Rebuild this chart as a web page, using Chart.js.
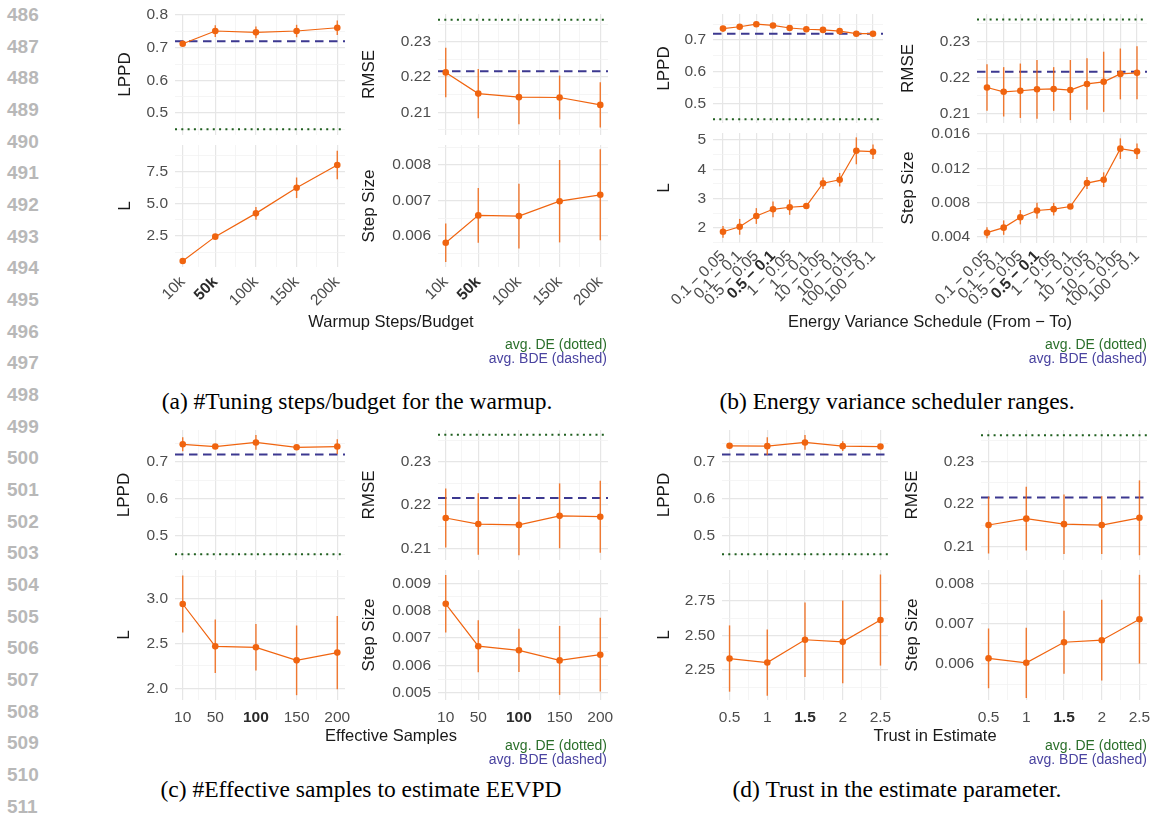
<!DOCTYPE html>
<html>
<head>
<meta charset="utf-8">
<script src="https://cdn.jsdelivr.net/npm/chart.js@4.4.1/dist/chart.umd.min.js"></script>
<style>
  body { margin: 0; background: #fff; width: 1150px; height: 828px; position: relative; overflow: hidden; font-family: "Liberation Sans", Arial, sans-serif; }
  canvas { position: absolute; }
  .ln { position: absolute; left: 7px; font-weight: bold; font-size: 19px; color: #b8b8b8; line-height: 1; transform: translateY(-50%); }
  .xt { position: absolute; font-size: 16.5px; color: #1a1a1a; line-height: 1; white-space: nowrap; transform: translate(-50%, -50%); }
  .lg { position: absolute; font-size: 14px; line-height: 1; white-space: nowrap; text-align: right; transform: translateY(-50%); }
  .cap { position: absolute; font-family: "Liberation Serif", "Times New Roman", serif; font-size: 23.5px; color: #000; line-height: 1; white-space: nowrap; transform: translate(-50%, -50%); }
</style>
</head>
<body>
<script>
// reference lines (avg. DE dotted, avg. BDE dashed)
const deLppd = 0.45, bdeLppd = 0.7195;
const deRmse = 0.2362, bdeRmse = 0.2216;

// y tick breaks
const lppdTicks = [0.5, 0.6, 0.7, 0.8];
const lppdTickLabels = ['0.5', '0.6', '0.7', '0.8'];
const rmseTicks = [0.21, 0.22, 0.23];
const rmseTickLabels = ['0.21', '0.22', '0.23'];

// (a) warmup steps / budget
const warmupX = [10, 50, 100, 150, 200];
const warmupLabels = ['10k', '50k', '100k', '150k', '200k'];
const warmupLppd = [0.712, 0.751, 0.747, 0.751, 0.761];
const warmupLppdErr = [0.006, 0.018, 0.018, 0.019, 0.022];
const warmupRmse = [0.2213, 0.2153, 0.2143, 0.2142, 0.2121];
const warmupRmseErr = [0.0070, 0.0070, 0.0077, 0.0062, 0.0064];
const warmupL = [0.56, 2.45, 4.26, 6.25, 8.02];
const warmupLErr = [0.05, 0.12, 0.5, 0.8, 1.1];
const warmupStep = [0.00581, 0.00658, 0.00656, 0.00698, 0.00716];
const warmupStepErr = [0.00054, 0.00077, 0.00091, 0.00116, 0.00128];
const warmupLTicks = [2.5, 5, 7.5];
const warmupLTickLabels = ['2.5', '5.0', '7.5'];
const warmupStepTicks = [0.006, 0.007, 0.008];
const warmupStepTickLabels = ['0.006', '0.007', '0.008'];

// (b) energy variance schedule
const energyX = [1, 2, 3, 4, 5, 6, 7, 8, 9, 10];
const energyLabels = ['0.1 − 0.05', '0.1 − 0.1', '0.5 − 0.05', '0.5 − 0.1', '1 − 0.05',
  '1 − 0.1', '10 − 0.05', '10 − 0.1', '100 − 0.05', '100 − 0.1'];
const energyLppd = [0.736, 0.742, 0.750, 0.746, 0.738, 0.734, 0.732, 0.728, 0.720, 0.720];
const energyLppdErr = [0.005, 0.005, 0.008, 0.006, 0.004, 0.004, 0.004, 0.004, 0.004, 0.004];
const energyRmse = [0.2172, 0.2160, 0.2163, 0.2167, 0.2168, 0.2165, 0.2182, 0.2188, 0.2210, 0.2213];
const energyRmseErr = [0.0065, 0.0069, 0.0076, 0.0082, 0.0061, 0.0084, 0.0072, 0.0084, 0.0071, 0.0074];
const energyL = [1.86, 2.03, 2.40, 2.63, 2.70, 2.74, 3.52, 3.64, 4.63, 4.60];
const energyLErr = [0.2, 0.27, 0.27, 0.27, 0.26, 0.1, 0.2, 0.23, 0.46, 0.25];
const energyStep = [0.00447, 0.00506, 0.00628, 0.00706, 0.00722, 0.00753, 0.01027, 0.01066, 0.01429, 0.01398];
const energyStepErr = [0.00064, 0.00084, 0.00084, 0.00092, 0.00074, 0.0003, 0.0007, 0.00086, 0.0012, 0.0009];
const energyLTicks = [2, 3, 4, 5];
const energyLTickLabels = ['2', '3', '4', '5'];
const energyStepTicks = [0.004, 0.008, 0.012, 0.016];
const energyStepTickLabels = ['0.004', '0.008', '0.012', '0.016'];

// (c) effective samples
const samplesX = [10, 50, 100, 150, 200];
const samplesLabels = ['10', '50', '100', '150', '200'];
const samplesLppd = [0.747, 0.741, 0.752, 0.739, 0.741];
const samplesLppdErr = [0.019, 0.004, 0.020, 0.004, 0.020];
const samplesRmse = [0.2170, 0.2156, 0.2154, 0.2175, 0.2173];
const samplesRmseErr = [0.0068, 0.0071, 0.0070, 0.0075, 0.0083];
const samplesL = [2.944, 2.47, 2.459, 2.313, 2.40];
const samplesLErr = [0.32, 0.30, 0.26, 0.39, 0.41];
const samplesStep = [0.00825, 0.00670, 0.00655, 0.00618, 0.00639];
const samplesStepErr = [0.00105, 0.00095, 0.00079, 0.00126, 0.00135];
const samplesLTicks = [2, 2.5, 3];
const samplesLTickLabels = ['2.0', '2.5', '3.0'];
const samplesStepTicks = [0.005, 0.006, 0.007, 0.008, 0.009];
const samplesStepTickLabels = ['0.005', '0.006', '0.007', '0.008', '0.009'];

// (d) trust in estimate
const trustX = [0.5, 1, 1.5, 2, 2.5];
const trustLabels = ['0.5', '1', '1.5', '2', '2.5'];
const trustLppd = [0.743, 0.742, 0.752, 0.742, 0.741];
const trustLppdErr = [0.005, 0.024, 0.020, 0.013, 0.007];
const trustRmse = [0.2151, 0.2166, 0.2153, 0.2151, 0.2168];
const trustRmseErr = [0.0067, 0.0075, 0.0070, 0.0068, 0.0088];
const trustL = [2.333, 2.304, 2.469, 2.454, 2.612];
const trustLErr = [0.24, 0.24, 0.27, 0.30, 0.33];
const trustStep = [0.00614, 0.00603, 0.00654, 0.00659, 0.00711];
const trustStepErr = [0.00074, 0.00087, 0.00078, 0.0010, 0.0011];
const trustLTicks = [2.25, 2.5, 2.75];
const trustLTickLabels = ['2.25', '2.50', '2.75'];
const trustStepTicks = [0.006, 0.007, 0.008];
const trustStepTickLabels = ['0.006', '0.007', '0.008'];

const lineNumbers = [486, 487, 488, 489, 490, 491, 492, 493, 494, 495, 496, 497, 498,
  499, 500, 501, 502, 503, 504, 505, 506, 507, 508, 509, 510, 511];

const FONT = '"Liberation Sans", Arial, sans-serif';
const ORANGE = '#f0640f';

// major breaks plus ggplot style minor breaks halfway between them
function withMinor(major, min, max, addMinor) {
  const all = major.filter(v => v >= min && v <= max);
  if (!addMinor) return all;
  const n = major.length;
  const cand = [major[0] - (major[1] - major[0]) / 2, major[n - 1] + (major[n - 1] - major[n - 2]) / 2];
  for (let i = 0; i < n - 1; i++) cand.push((major[i] + major[i + 1]) / 2);
  cand.forEach(v => { if (v >= min && v <= max) all.push(v); });
  return all.sort((a, b) => a - b);
}
const idxOf = (arr, v) => arr.findIndex(m => Math.abs(m - v) < 1e-9);

const errorBars = {
  id: 'errorBars',
  beforeDatasetsDraw(chart) {
    const {ctx, chartArea, scales: {x, y}} = chart;
    const ds = chart.data.datasets[0];
    const refs = chart.options.plugins.refLines.lines || [];
    ctx.save();
    refs.forEach(r => {
      const py = y.getPixelForValue(r.value);
      ctx.beginPath();
      ctx.strokeStyle = r.dotted ? '#1f5f1f' : '#3c3890';
      ctx.lineWidth = 2;
      ctx.setLineDash(r.dotted ? [2, 4.3] : [8.5, 5.5]);
      ctx.moveTo(chartArea.left, py);
      ctx.lineTo(chartArea.right, py);
      ctx.stroke();
    });
    ctx.setLineDash([]);
    ctx.strokeStyle = 'rgba(240,100,15,0.85)';
    ctx.lineWidth = 1.4;
    ds.data.forEach((pt, i) => {
      const px = x.getPixelForValue(pt.x);
      ctx.beginPath();
      ctx.moveTo(px, y.getPixelForValue(pt.y - ds.err[i]));
      ctx.lineTo(px, y.getPixelForValue(pt.y + ds.err[i]));
      ctx.stroke();
    });
    ctx.restore();
  }
};

function panel(p) {
  const padT = 12, padB = 12, padR = 22;
  const xh = p.xh || 0;
  const cl = p.titleX - 12;
  const w = p.right - cl + padR;
  const h = p.bottom - p.top + padT + padB + xh;
  const cv = document.createElement('canvas');
  cv.width = w;
  cv.height = h;
  cv.style.cssText = `left:${cl}px;top:${p.top - padT}px;width:${w}px;height:${h}px`;
  document.body.appendChild(cv);

  const xTicks = withMinor(p.x, p.xMin, p.xMax, p.xMinor);
  const yTicks = withMinor(p.yTicks, p.yMin, p.yMax, true);
  const gridCol = major => ctx => (ctx.tick && idxOf(major, ctx.tick.value) < 0) ? '#f0f0f0' : '#e6e6e6';
  const gridW = major => ctx => (ctx.tick && idxOf(major, ctx.tick.value) < 0) ? 0.7 : 1.2;
  const bold = ctx => ctx.tick && Math.abs(ctx.tick.value - p.xBold) < 1e-9;

  return new Chart(cv, {
    type: 'line',
    data: {
      datasets: [{
        data: p.x.map((v, i) => ({x: v, y: p.y[i]})),
        err: p.err,
        borderColor: ORANGE,
        backgroundColor: ORANGE,
        borderWidth: 1.2,
        pointRadius: 3.3,
        pointBorderWidth: 0,
        tension: 0
      }]
    },
    options: {
      responsive: false,
      animation: false,
      layout: {padding: {left: 0, top: padT, right: padR, bottom: padB}},
      plugins: {legend: {display: false}, tooltip: {enabled: false}, refLines: {lines: p.refs || []}},
      scales: {
        x: {
          type: 'linear',
          min: p.xMin,
          max: p.xMax,
          afterBuildTicks: s => { s.ticks = xTicks.map(v => ({value: v})); },
          afterFit: s => { s.height = xh; s.paddingLeft = 0; s.paddingRight = 0; },
          border: {display: false},
          grid: {drawTicks: false, color: gridCol(p.x), lineWidth: gridW(p.x)},
          ticks: {
            display: xh > 0,
            autoSkip: false,
            minRotation: p.rot || 0,
            maxRotation: p.rot || 0,
            padding: p.xPad || 8,
            color: ctx => bold(ctx) ? '#2b2b2b' : '#4d4d4d',
            font: ctx => ({family: FONT, size: 15.5, weight: bold(ctx) ? 'bold' : 'normal'}),
            callback: v => { const i = idxOf(p.x, v); return i < 0 ? '' : p.xLabels[i]; }
          }
        },
        y: {
          min: p.yMin,
          max: p.yMax,
          afterBuildTicks: s => { s.ticks = yTicks.map(v => ({value: v})); },
          afterFit: s => { s.width = p.left - cl; s.paddingTop = 0; s.paddingBottom = 0; },
          border: {display: false},
          grid: {drawTicks: false, color: gridCol(p.yTicks), lineWidth: gridW(p.yTicks)},
          title: {display: true, text: p.title, color: '#1a1a1a', font: {family: FONT, size: 17}, padding: {top: 1.8, bottom: 0}},
          ticks: {
            autoSkip: false,
            padding: 7,
            color: '#4d4d4d',
            font: {family: FONT, size: 15.5},
            callback: v => { const i = idxOf(p.yTicks, v); return i < 0 ? '' : p.yLabels[i]; }
          }
        }
      }
    },
    plugins: [errorBars]
  });
}

const lppdRefs = [{value: deLppd, dotted: true}, {value: bdeLppd, dotted: false}];
const rmseRefs = [{value: deRmse, dotted: true}, {value: bdeRmse, dotted: false}];

// (a)
const ax = {x: warmupX, xLabels: warmupLabels, xBold: 50, xMin: 0.5, xMax: 209.5, xMinor: true};
panel({...ax, left: 175, right: 345, top: 14, bottom: 135, titleX: 125, title: 'LPPD',
  y: warmupLppd, err: warmupLppdErr, yTicks: lppdTicks, yLabels: lppdTickLabels, yMin: 0.4327, yMax: 0.8031, refs: lppdRefs});
panel({...ax, left: 438, right: 608, top: 14, bottom: 135, titleX: 369, title: 'RMSE',
  y: warmupRmse, err: warmupRmseErr, yTicks: rmseTicks, yLabels: rmseTickLabels, yMin: 0.20357, yMax: 0.23785, refs: rmseRefs});
panel({...ax, left: 175, right: 345, top: 145, bottom: 267, titleX: 125, title: 'L', xh: 40, rot: 45, xPad: 6,
  y: warmupL, err: warmupLErr, yTicks: warmupLTicks, yLabels: warmupLTickLabels, yMin: 0.089, yMax: 9.576});
panel({...ax, left: 438, right: 608, top: 145, bottom: 267, titleX: 369, title: 'Step Size', xh: 40, rot: 45, xPad: 6,
  y: warmupStep, err: warmupStepErr, yTicks: warmupStepTicks, yLabels: warmupStepTickLabels, yMin: 0.005127, yMax: 0.008563});

// (b)
const bx = {x: energyX, xLabels: energyLabels, xBold: 4, xMin: 0.4, xMax: 10.6, xMinor: false};
panel({...bx, left: 713, right: 883, top: 14, bottom: 123, titleX: 664, title: 'LPPD',
  y: energyLppd, err: energyLppdErr, yTicks: lppdTicks, yLabels: lppdTickLabels, yMin: 0.4378, yMax: 0.7822, refs: lppdRefs});
panel({...bx, left: 977, right: 1147, top: 14, bottom: 123, titleX: 908, title: 'RMSE',
  y: energyRmse, err: energyRmseErr, yTicks: rmseTicks, yLabels: rmseTickLabels, yMin: 0.20729, yMax: 0.23774, refs: rmseRefs});
panel({...bx, left: 713, right: 883, top: 133, bottom: 243, titleX: 664, title: 'L', xh: 62, rot: 45, xPad: 4,
  y: energyL, err: energyLErr, yTicks: energyLTicks, yLabels: energyLTickLabels, yMin: 1.4766, yMax: 5.2395});
panel({...bx, left: 977, right: 1147, top: 133, bottom: 243, titleX: 908, title: 'Step Size', xh: 62, rot: 45, xPad: 4,
  y: energyStep, err: energyStepErr, yTicks: energyStepTicks, yLabels: energyStepTickLabels, yMin: 0.003264, yMax: 0.016117});

// (c)
const cx = {x: samplesX, xLabels: samplesLabels, xBold: 100, xMin: 0.5, xMax: 209.5, xMinor: true};
panel({...cx, left: 175, right: 345, top: 430, bottom: 560, titleX: 124, title: 'LPPD',
  y: samplesLppd, err: samplesLppdErr, yTicks: lppdTicks, yLabels: lppdTickLabels, yMin: 0.4343, yMax: 0.7857, refs: lppdRefs});
panel({...cx, left: 438, right: 608, top: 430, bottom: 560, titleX: 369, title: 'RMSE',
  y: samplesRmse, err: samplesRmseErr, yTicks: rmseTicks, yLabels: rmseTickLabels, yMin: 0.2073, yMax: 0.23732, refs: rmseRefs});
panel({...cx, left: 175, right: 345, top: 570, bottom: 700, titleX: 124, title: 'L', xh: 26, xPad: 8,
  y: samplesL, err: samplesLErr, yTicks: samplesLTicks, yLabels: samplesLTickLabels, yMin: 1.869, yMax: 3.3247});
panel({...cx, left: 438, right: 608, top: 570, bottom: 700, titleX: 369, title: 'Step Size', xh: 26, xPad: 8,
  y: samplesStep, err: samplesStepErr, yTicks: samplesStepTicks, yLabels: samplesStepTickLabels, yMin: 0.004733, yMax: 0.009486});

// (d)
const dx = {x: trustX, xLabels: trustLabels, xBold: 1.5, xMin: 0.4, xMax: 2.6, xMinor: true};
panel({...dx, left: 722, right: 888, top: 430, bottom: 560, titleX: 664, title: 'LPPD',
  y: trustLppd, err: trustLppdErr, yTicks: lppdTicks, yLabels: lppdTickLabels, yMin: 0.4343, yMax: 0.7857, refs: lppdRefs});
panel({...dx, left: 981, right: 1147, top: 430, bottom: 560, titleX: 912, title: 'RMSE',
  y: trustRmse, err: trustRmseErr, yTicks: rmseTicks, yLabels: rmseTickLabels, yMin: 0.20687, yMax: 0.23746, refs: rmseRefs});
panel({...dx, left: 722, right: 888, top: 570, bottom: 700, titleX: 664, title: 'L', xh: 26, xPad: 8,
  y: trustL, err: trustLErr, yTicks: trustLTicks, yLabels: trustLTickLabels, yMin: 2.0326, yMax: 2.9746});
panel({...dx, left: 981, right: 1147, top: 570, bottom: 700, titleX: 912, title: 'Step Size', xh: 26, xPad: 8,
  y: trustStep, err: trustStepErr, yTicks: trustStepTicks, yLabels: trustStepTickLabels, yMin: 0.005108, yMax: 0.00833});

// text around the plots
function addText(cls, text, css) {
  const d = document.createElement('div');
  d.className = cls;
  d.textContent = text;
  d.style.cssText = css;
  document.body.appendChild(d);
}
lineNumbers.forEach((n, i) => addText('ln', String(n), `top:${14 + i * 31.67}px`));

addText('xt', 'Warmup Steps/Budget', 'left:391px;top:321px');
addText('xt', 'Energy Variance Schedule (From − To)', 'left:930px;top:321px');
addText('xt', 'Effective Samples', 'left:391px;top:735px');
addText('xt', 'Trust in Estimate', 'left:935px;top:735px');

[[607, 344, 745], [1147, 344, 745]].forEach(([r, y1, y2]) => {
  [y1, y2].forEach(y => {
    addText('lg', 'avg. DE (dotted)', `right:${1150 - r}px;top:${y}px;color:#2a6f2a`);
    addText('lg', 'avg. BDE (dashed)', `right:${1150 - r}px;top:${y + 13.5}px;color:#4a43a0`);
  });
});

addText('cap', '(a) #Tuning steps/budget for the warmup.', 'left:357px;top:402px');
addText('cap', '(b) Energy variance scheduler ranges.', 'left:897px;top:402px');
addText('cap', '(c) #Effective samples to estimate EEVPD', 'left:361px;top:790px');
addText('cap', '(d) Trust in the estimate parameter.', 'left:897px;top:790px');
</script>
</body>
</html>
